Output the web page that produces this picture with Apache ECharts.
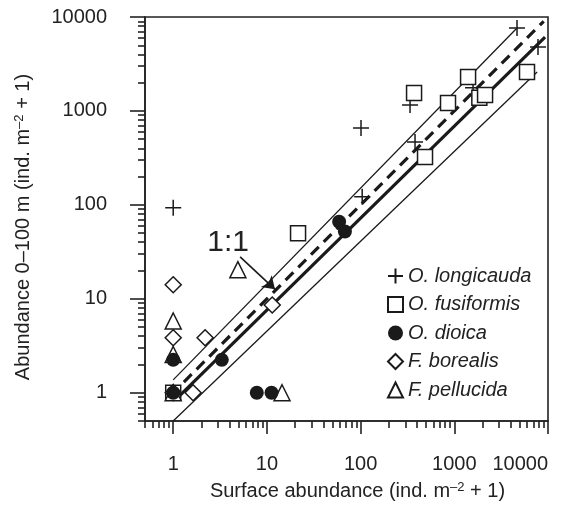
<!DOCTYPE html>
<html>
<head>
<meta charset="utf-8">
<script src="https://cdn.jsdelivr.net/npm/echarts@6/dist/echarts.min.js"></script>
<style>
  html, body { margin: 0; padding: 0; background: #fff; }
  #chart { width: 569px; height: 510px; }
</style>
</head>
<body>
<div id="chart"></div>
<script>
// values are raw abundances (ind. m-2 + 1), axes are log10
var longicaudaX = [1, 1, 101, 104, 337, 381, 1585, 4670, 7820];
var longicaudaY = [93, 1, 660, 122, 1160, 468, 1760, 7640, 4800];

var fusiformisX = [1, 21.5, 487, 372, 857, 1403, 1850, 2130, 5970];
var fusiformisY = [1, 50, 324, 1550, 1217, 2300, 1380, 1480, 2600];

var dioicaX = [1, 1, 3.3, 7.8, 11.2, 59, 68];
var dioicaY = [1, 2.24, 2.24, 1, 1, 66, 52];

var borealisX = [1, 1, 1, 1.63, 2.19, 11.4];
var borealisY = [1, 14.1, 3.85, 1, 3.85, 8.6];

var pellucidaX = [1, 1, 1, 4.9, 14.5];
var pellucidaY = [1, 5.8, 2.55, 20.4, 1];

// fitted line, its bounds and the 1:1 line (end points)
var fitX = [1.13, 9300];
var fitY = [0.9, 6120];
var upperX = [1, 4670];
var upperY = [1.37, 7640];
var lowerX = [1, 7650];
var lowerY = [0.5, 2600];
var oneX = [1.3, 9000];
var oneY = [1.3, 9000];

var majorTicks = [1, 10, 100, 1000, 10000];
var minorTicks = [0.5, 0.6, 0.7, 0.8, 0.9];
[1, 10, 100, 1000].forEach(function (d) {
    for (var k = 2; k <= 9; k++) minorTicks.push(k * d);
});

var lg = function (v) { return Math.log10(v); };
var pairs = function (xs, ys) {
    return xs.map(function (x, i) { return [lg(x), lg(ys[i])]; });
};

var FONT = '"Liberation Sans", Arial, sans-serif';
var plusPath = 'path://M0,8L16,8M8,0L8,16';

var chart = echarts.init(document.getElementById('chart'));

var nameRich = {
    sup: { fontSize: 13, verticalAlign: 'top', lineHeight: 14, fontFamily: FONT, color: '#222' }
};

function axisPair(dir) {
    var main = {
        type: 'value',
        min: lg(0.5),
        max: 4,
        position: dir === 'x' ? 'bottom' : 'left',
        axisLine: { show: true, onZero: false, lineStyle: { color: '#222', width: 1.6 } },
        axisTick: {
            show: true,
            customValues: majorTicks.map(lg),
            length: dir === 'x' ? 13 : 15,
            lineStyle: { color: '#222', width: 1.6 }
        },
        axisLabel: {
            customValues: majorTicks.map(lg),
            formatter: function (v) { return String(Math.round(Math.pow(10, v))); },
            fontSize: 20,
            fontFamily: FONT,
            color: '#222',
            margin: dir === 'x' ? 33 : 38
        },
        splitLine: { show: false },
        nameLocation: 'middle'
    };
    var minor = {
        type: 'value',
        min: lg(0.5),
        max: 4,
        position: dir === 'x' ? 'bottom' : 'left',
        axisLine: { show: false, onZero: false },
        axisTick: {
            show: true,
            customValues: minorTicks.map(lg),
            length: 7,
            lineStyle: { color: '#222', width: 1.6 }
        },
        axisLabel: { show: false },
        splitLine: { show: false }
    };
    return [main, minor];
}

var xAxes = axisPair('x');
xAxes[0].name = 'Surface abundance (ind. m{sup|–2} + 1)';
xAxes[0].nameGap = 60;
xAxes[0].nameTextStyle = { fontSize: 20, fontFamily: FONT, color: '#222', padding: [0, 0, 0, 22], rich: nameRich };
xAxes[0].axisLabel.alignMaxLabel = 'right';

var yAxes = axisPair('y');
yAxes[0].name = 'Abundance 0–100 m (ind. m{sup|–2} + 1)';
yAxes[0].nameGap = 112;
yAxes[0].nameTextStyle = { fontSize: 20, fontFamily: FONT, color: '#222', padding: [0, 16, 0, 0], rich: nameRich };
yAxes[0].axisLabel.padding = [6, 0, 0, 0];

function lineSeries(name, xs, ys, width, type) {
    return {
        name: name,
        type: 'line',
        data: pairs(xs, ys),
        showSymbol: false,
        silent: true,
        z: 1,
        lineStyle: { color: '#1a1a1a', width: width, type: type || 'solid' }
    };
}

function markSeries(name, xs, ys, symbol, size, fill, z) {
    return {
        name: name,
        type: 'scatter',
        data: pairs(xs, ys),
        symbol: symbol,
        symbolSize: size,
        z: z || 2,
        itemStyle: { color: fill, borderColor: '#1a1a1a', borderWidth: fill === '#1a1a1a' ? 0 : 1.5, opacity: 1 }
    };
}

var option = {
    animation: false,
    backgroundColor: '#fff',
    grid: {
        left: 145, right: 21, top: 17, bottom: 89,
        show: true, borderColor: '#222', borderWidth: 1.6, backgroundColor: 'transparent'
    },
    xAxis: xAxes,
    yAxis: yAxes,
    legend: {
        data: ['O. longicauda', 'O. fusiformis', 'O. dioica', 'F. borealis', 'F. pellucida'],
        orient: 'vertical',
        left: 382,
        top: 261,
        itemWidth: 15,
        itemHeight: 15,
        itemGap: 8.5,
        textStyle: { fontSize: 20, fontStyle: 'italic', fontFamily: FONT, color: '#222' }
    },
    series: [
        lineSeries('lower', lowerX, lowerY, 1.3),
        lineSeries('upper', upperX, upperY, 1.3),
        lineSeries('fit', fitX, fitY, 3.2),
        lineSeries('1:1', oneX, oneY, 3.2, [11, 7]),
        {
            name: 'arrow',
            type: 'line',
            data: [],
            silent: true,
            markLine: {
                silent: true,
                symbol: ['none', 'arrow'],
                symbolSize: 12,
                label: { show: false },
                lineStyle: { color: '#1a1a1a', width: 1.6, type: 'solid' },
                data: [[{ coord: [lg(5.18), lg(28)] }, { coord: [lg(12.2), lg(12.6)] }]]
            },
            markPoint: {
                silent: true,
                symbol: 'circle',
                symbolSize: 0,
                label: { show: true, position: 'inside', formatter: '1:1', fontSize: 30, fontFamily: FONT, color: '#222' },
                data: [{ coord: [lg(3.86), lg(39.4)] }]
            }
        },
        markSeries('O. longicauda', longicaudaX, longicaudaY, plusPath, 16, '#fff'),
        markSeries('O. fusiformis', fusiformisX, fusiformisY, 'rect', 15, '#fff'),
        markSeries('F. borealis', borealisX, borealisY, 'diamond', 16, '#fff'),
        markSeries('F. pellucida', pellucidaX, pellucidaY, 'triangle', 16, '#fff'),
        markSeries('O. dioica', dioicaX, dioicaY, 'circle', 14, '#1a1a1a', 3)
    ]
};

chart.setOption(option);
</script>
</body>
</html>
